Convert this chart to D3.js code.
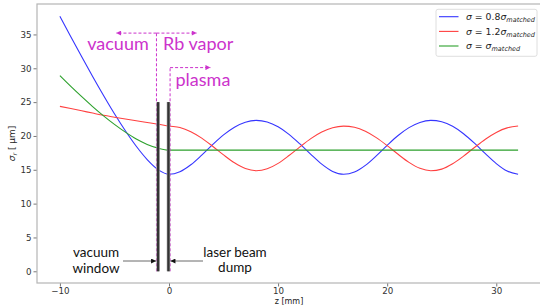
<!DOCTYPE html>
<html>
<head>
<meta charset="utf-8">
<script src="https://cdn.jsdelivr.net/npm/d3@7"></script>
<style>
  html, body { margin: 0; padding: 0; background: #fff; }
  svg { display: block; }
</style>
</head>
<body>
<svg id="chart" width="540" height="305"></svg>
<script>
// ---------- data ----------
const zValues = [-10,-9,-8,-7,-6,-5,-4,-3,-2,-1,0,1,2,3,4,5,6,7,8,9,10,11,12,13,14,15,16,17,18,19,20,21,22,23,24,25,26,27,28,29,30,31,32];
const sigma08 = [37.68,34.67,31.70,28.80,25.99,23.29,20.77,18.48,16.52,15.03,
  14.33,14.71,15.74,17.17,18.72,20.15,21.29,22.03,22.30,22.07,21.36,20.24,18.82,17.28,15.83,14.76,
  14.33,14.66,15.65,17.06,18.61,20.06,21.23,22.00,22.30,22.10,21.43,20.33,18.93,17.38,15.92,14.81,14.34];
const sigma12 = [24.37,24.05,23.72,23.38,23.05,22.77,22.50,22.24,21.99,21.74,
  21.46,21.25,20.63,19.68,18.48,17.20,16.03,15.18,14.86,15.14,15.95,17.11,18.39,19.60,20.57,21.22,
  21.46,21.28,20.69,19.75,18.57,17.29,16.10,15.22,14.86,15.10,15.88,17.02,18.30,19.52,20.52,21.19,21.46];
const sigmaMatched = [28.91,27.32,25.80,24.34,22.97,21.71,20.56,19.54,18.75,18.20,
  17.90,17.90,17.90,17.90,17.90,17.90,17.90,17.90,17.90,17.90,17.90,17.90,17.90,17.90,17.90,17.90,
  17.90,17.90,17.90,17.90,17.90,17.90,17.90,17.90,17.90,17.90,17.90,17.90,17.90,17.90,17.90,17.90,17.90];
const seriesNames = ["0.8", "1.2", ""];
const seriesColors = ["#3535ff", "#ff4040", "#2ca02c"];
const xTicks = [-10, 0, 10, 20, 30];
const yTicks = [0, 5, 10, 15, 20, 25, 30, 35];
const barZ = [-1.0, -0.05];      // vacuum window, laser beam dump
const barTop = 25;
const boundaryZ = [-1.15, 0.1];  // vacuum | Rb vapor, plasma start
const boundaryTop = [35.2, 30.1];
const arrowLen = 3.7;

// ---------- layout ----------
const svg = d3.select("#chart");
const plot = { left: 37, top: 4, right: 541, bottom: 283 };
const x = d3.scaleLinear().domain([-12.1, 34.1]).range([plot.left, plot.right]);
const y = d3.scaleLinear().domain([-1.73, 39.5]).range([plot.bottom, plot.top]);

const magenta = "#cc33cc";
const defs = svg.append("defs");
function marker(id, color, w, h) {
  defs.append("marker").attr("id", id).attr("viewBox", "0 0 10 10")
    .attr("refX", 10).attr("refY", 5).attr("markerWidth", w).attr("markerHeight", h)
    .attr("markerUnits", "userSpaceOnUse").attr("orient", "auto")
    .append("path").attr("d", "M0,0 L10,5 L0,10 z").attr("fill", color);
}
marker("mag", magenta, 6, 5);
marker("blk", "#111", 6, 5);

// ---------- curves ----------
const series = [sigma08, sigma12, sigmaMatched];
const line = d3.line().x(d => x(d[0])).y(d => y(d[1])).curve(d3.curveMonotoneX);
series.forEach((vals, i) => {
  svg.append("path")
    .datum(zValues.map((z, k) => [z, vals[k]]))
    .attr("d", line).attr("fill", "none")
    .attr("stroke", seriesColors[i]).attr("stroke-width", 1.1);
});

// ---------- boundaries (magenta dashed) ----------
boundaryZ.forEach((bz, i) => {
  svg.append("line")
    .attr("x1", x(bz)).attr("x2", x(bz)).attr("y1", y(0)).attr("y2", y(boundaryTop[i]))
    .attr("stroke", magenta).attr("stroke-width", 1).attr("stroke-dasharray", "3,2");
});
const arrows = [
  { z0: boundaryZ[0], z1: boundaryZ[0] - arrowLen, v: boundaryTop[0] },
  { z0: boundaryZ[0], z1: boundaryZ[0] + arrowLen, v: boundaryTop[0] },
  { z0: boundaryZ[1], z1: boundaryZ[1] + arrowLen, v: boundaryTop[1] }
];
arrows.forEach(a => {
  svg.append("line")
    .attr("x1", x(a.z0)).attr("x2", x(a.z1)).attr("y1", y(a.v)).attr("y2", y(a.v))
    .attr("stroke", magenta).attr("stroke-width", 1).attr("stroke-dasharray", "3,2")
    .attr("marker-end", "url(#mag)");
});

// ---------- bars ----------
barZ.forEach(bz => {
  svg.append("line").attr("x1", x(bz)).attr("x2", x(bz)).attr("y1", y(0)).attr("y2", y(barTop))
    .attr("stroke", "#9a9a9a").attr("stroke-width", 3.4);
  svg.append("line").attr("x1", x(bz)).attr("x2", x(bz)).attr("y1", y(0)).attr("y2", y(barTop))
    .attr("stroke", "#333").attr("stroke-width", 2.2);
});

// ---------- magenta labels ----------
const magFont = "Lato, 'Open Sans', sans-serif";
svg.append("text").attr("x", 118).attr("y", 50).attr("text-anchor", "middle")
  .attr("font-family", magFont).attr("font-size", 18).attr("fill", magenta).text("vacuum");
svg.append("text").attr("x", 163).attr("y", 50)
  .attr("font-family", magFont).attr("font-size", 18).attr("fill", magenta).text("Rb vapor");
svg.append("text").attr("x", 175.5).attr("y", 86)
  .attr("font-family", magFont).attr("font-size", 18).attr("fill", magenta).text("plasma");

// ---------- black annotations ----------
const annY = 261;
svg.append("line").attr("x1", 123).attr("y1", annY).attr("x2", x(barZ[0]) - 2).attr("y2", annY)
  .attr("stroke", "#444").attr("stroke-width", 0.8).attr("marker-end", "url(#blk)");
svg.append("line").attr("x1", 203).attr("y1", annY).attr("x2", x(barZ[1]) + 2).attr("y2", annY)
  .attr("stroke", "#444").attr("stroke-width", 0.8).attr("marker-end", "url(#blk)");
const annFont = "Lato, 'Open Sans', sans-serif";
[["vacuum", 96, 256.5], ["window", 96, 272.5], ["laser beam", 235, 256.5], ["dump", 235, 272]].forEach(t => {
  svg.append("text").attr("x", t[1]).attr("y", t[2]).attr("text-anchor", "middle")
    .attr("font-family", annFont).attr("font-size", 13.5).attr("fill", "#111").text(t[0]);
});

// ---------- axes ----------
const axFont = "'DejaVu Sans', sans-serif";
const gx = svg.append("g").attr("transform", `translate(0,${plot.bottom})`)
  .call(d3.axisBottom(x).tickValues(xTicks).tickSize(3.5).tickPadding(1.5).tickFormat(d3.format("d")));
const gy = svg.append("g").attr("transform", `translate(${plot.left},0)`)
  .call(d3.axisLeft(y).tickValues(yTicks).tickSize(3.5).tickPadding(2).tickFormat(d3.format("d")));
[gx, gy].forEach(g => {
  g.select(".domain").remove();
  g.selectAll(".tick line").attr("stroke", "#555").attr("stroke-width", 0.8);
  g.selectAll(".tick text").attr("font-family", axFont).attr("font-size", 8.7).attr("fill", "#333");
});

// spines
svg.append("rect").attr("x", plot.left).attr("y", plot.top)
  .attr("width", plot.right - plot.left).attr("height", plot.bottom - plot.top)
  .attr("fill", "none").attr("stroke", "#b5b5b5").attr("stroke-width", 1.2);

// axis labels
const yl = svg.append("text").attr("transform", `translate(15,${(plot.top + plot.bottom) / 2}) rotate(-90)`)
  .attr("text-anchor", "middle").attr("font-family", axFont).attr("font-size", 9).attr("fill", "#222");
yl.append("tspan").attr("font-style", "italic").text("σ");
yl.append("tspan").attr("font-style", "italic").attr("font-size", 6.3).attr("dy", 2).text("r");
yl.append("tspan").attr("dy", -2).text(" [ μm]");

svg.append("text").attr("x", (plot.left + plot.right) / 2).attr("y", 304).attr("text-anchor", "middle")
  .attr("font-family", axFont).attr("font-size", 8).attr("fill", "#222").text("z [mm]");

// ---------- legend ----------
const lg = svg.append("g");
lg.append("rect").attr("x", 436).attr("y", 9.3).attr("width", 101).attr("height", 47)
  .attr("rx", 2).attr("fill", "#fff").attr("fill-opacity", 0.85)
  .attr("stroke", "#d5d5d5").attr("stroke-width", 0.8);
const rowY = [16.7, 31.4, 46];
seriesNames.forEach((nm, i) => {
  lg.append("line").attr("x1", 439).attr("x2", 458.5).attr("y1", rowY[i]).attr("y2", rowY[i])
    .attr("stroke", seriesColors[i]).attr("stroke-width", 1.1);
  const t = lg.append("text").attr("x", 466).attr("y", rowY[i] + 3.3)
    .attr("font-family", axFont).attr("font-size", 9.3).attr("fill", "#222");
  t.append("tspan").attr("font-style", "italic").text("σ");
  t.append("tspan").text(" = " + nm);
  t.append("tspan").attr("font-style", "italic").text("σ");
  t.append("tspan").attr("font-style", "italic").attr("font-size", 6.5).attr("dy", 2).text("matched");
});
</script>
</body>
</html>
